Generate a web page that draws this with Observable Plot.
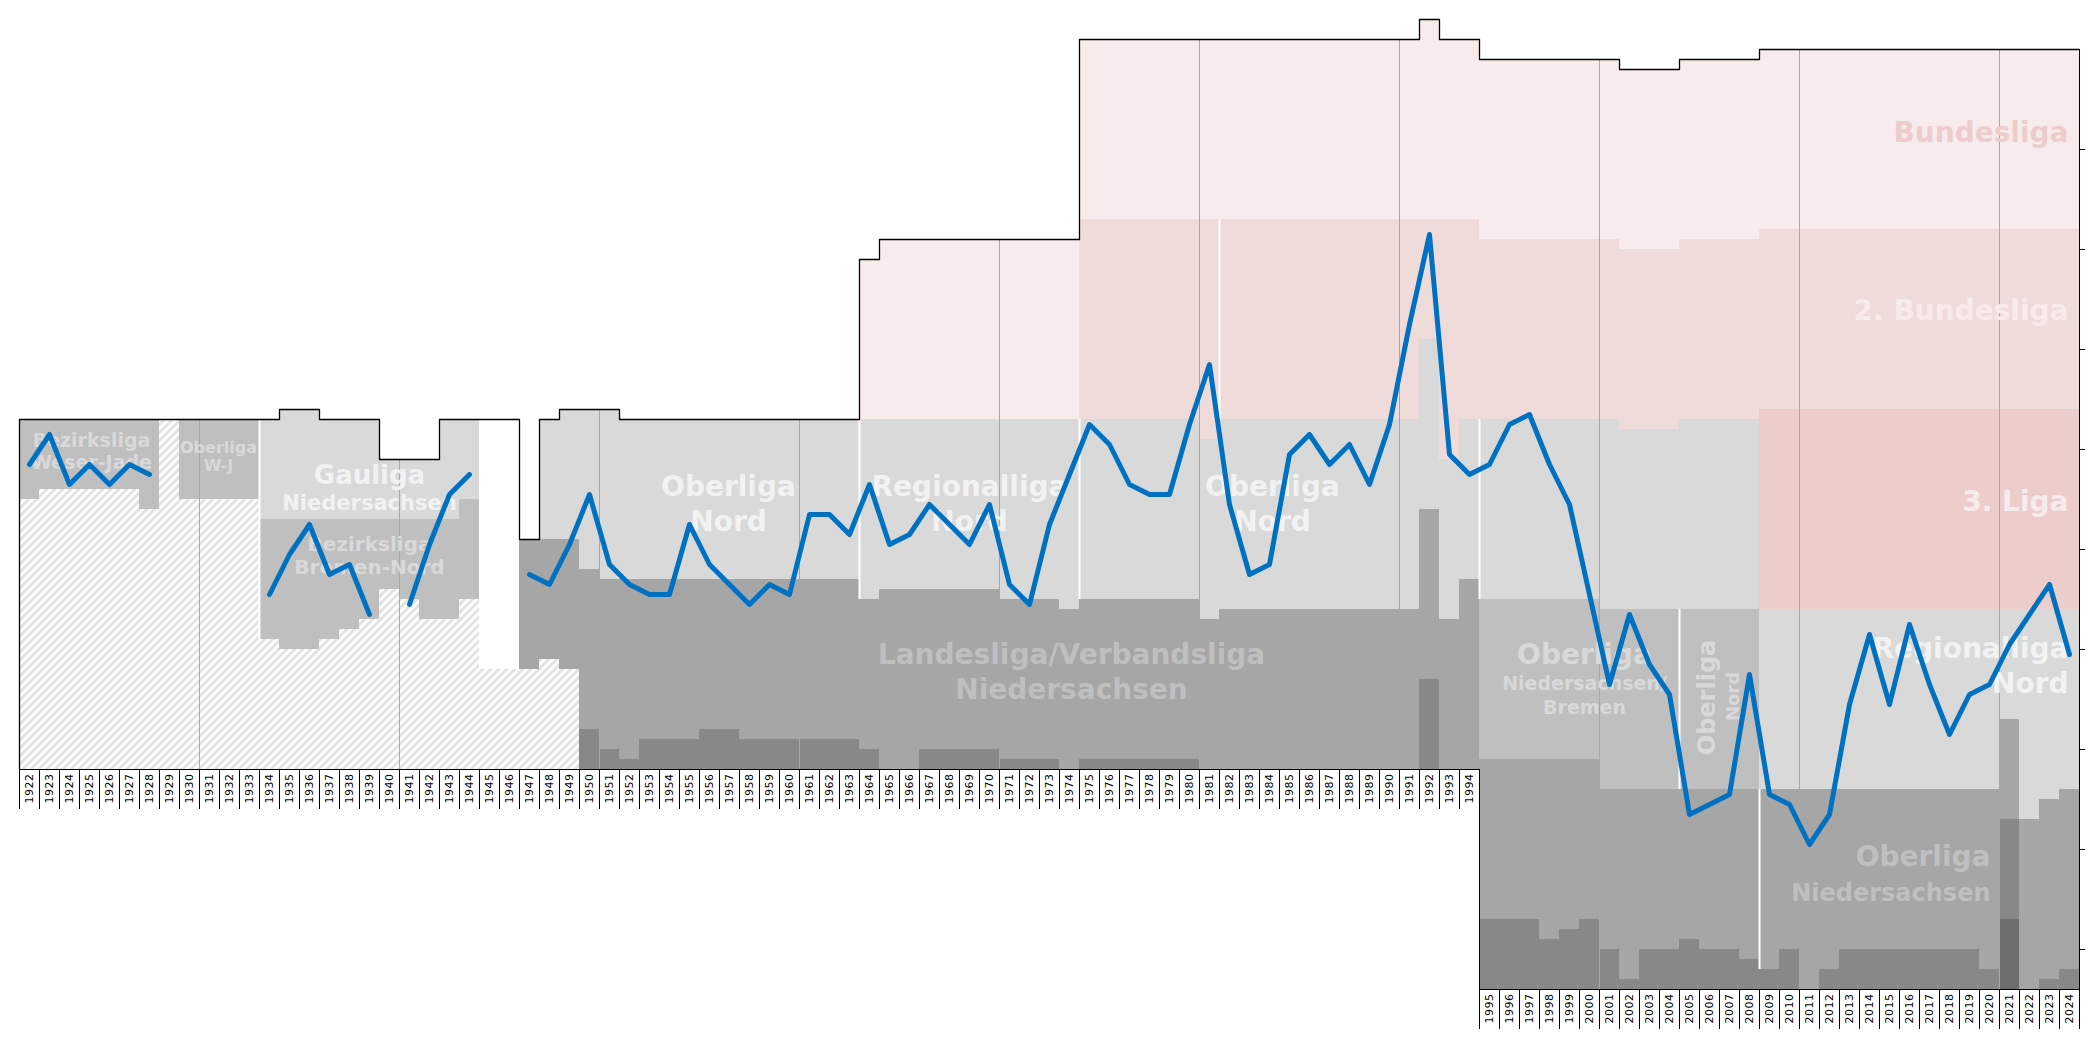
<!DOCTYPE html>
<html><head><meta charset="utf-8">
<script src="https://cdn.jsdelivr.net/npm/d3@7"></script>
<script src="https://cdn.jsdelivr.net/npm/@observablehq/plot@0.6"></script>
<style>html,body{margin:0;padding:0;background:#fff;} svg{display:block;}</style>
</head><body><div id="chart"></div>
<script>
// ---------- DATA (positions in "overall rank" units, 0 = top of Bundesliga 2009+) ----------
const firstYear = 1922, lastYear = 2024, splitYear = 1995;

// club's overall position per season (null = no data)
const positions = [
  41.5,38.5,43.5,41.5,43.5,41.5,42.5,null,null,null,null,null,      // 1922-1933
  54.5,50.5,47.5,52.5,51.5,56.5,null,                                // 1934-1940
  55.5,49.5,44.5,42.5,null,null,                                     // 1941-1946
  52.5,53.5,49.5,44.5,51.5,53.5,54.5,54.5,47.5,51.5,53.5,55.5,53.5,54.5, // 1947-1960
  46.5,46.5,48.5,43.5,49.5,48.5,45.5,47.5,49.5,45.5,                 // 1961-1970
  53.5,55.5,47.5,42.5,37.5,39.5,43.5,44.5,44.5,37.5,                 // 1971-1980
  31.5,45.5,52.5,51.5,40.5,38.5,41.5,39.5,43.5,37.5,                 // 1981-1990
  27.5,18.5,40.5,42.5,41.5,37.5,36.5,41.5,45.5,54.5,                 // 1991-2000
  63.5,56.5,61.5,64.5,76.5,75.5,74.5,62.5,74.5,75.5,                 // 2001-2010
  79.5,76.5,65.5,58.5,65.5,57.5,63.5,68.5,64.5,63.5,                 // 2011-2020
  59.5,56.5,53.5,60.5                                                // 2021-2024
];

// league bands: [fromYear, toYear, topRank, bottomRank]
const bundesliga = [[1964,1964,21,37],[1965,1974,19,37],[1975,1991,-1,17],[1992,1992,-3,17],[1993,1994,-1,17],
  [1995,2001,1,19],[2002,2004,2,20],[2005,2008,1,19],[2009,2024,0,18]];
const zweiteBundesliga = [[1975,1980,17,37],[1981,1981,17,39],[1982,1991,17,37],[1992,1992,17,29],[1993,1993,17,41],
  [1994,1994,17,37],[1995,2001,19,37],[2002,2004,20,38],[2005,2008,19,37],[2009,2024,18,36]];
const dritteLiga = [[2009,2024,36,56]];
const levelLight = [[1934,1934,37,47],[1935,1936,36,47],[1937,1939,37,47],[1940,1942,41,47],[1943,1943,37,47],[1944,1944,37,45],
  [1948,1948,37,49],[1949,1949,36,49],[1950,1950,36,52],[1951,1951,36,53],[1952,1963,37,53],[1964,1964,37,55],
  [1965,1970,37,54],[1971,1973,37,55],[1974,1974,37,56],[1975,1980,37,55],[1981,1981,39,57],[1982,1991,37,56],
  [1992,1992,29,46],[1993,1993,41,57],[1994,1994,37,53],[1995,2000,37,55],[2001,2001,37,56],[2002,2004,38,56],
  [2005,2008,37,56],[2009,2020,56,74],[2021,2021,56,67],[2022,2022,56,77],[2023,2023,56,75],[2024,2024,56,74]];
const levelMid = [[1922,1922,37,45],[1923,1927,37,44],[1928,1928,37,46],[1930,1933,37,45],[1934,1934,47,59],
  [1935,1936,47,60],[1937,1937,47,59],[1938,1938,47,58],[1939,1939,47,57],[1940,1940,47,54],[1941,1941,47,55],
  [1942,1943,47,57],[1944,1944,45,55],[1995,2000,55,71],[2001,2008,56,74]];
const levelDark = [[1947,1947,49,62],[1948,1948,49,61],[1949,1949,49,62],[1950,1950,52,68],[1951,1951,53,70],
  [1952,1952,53,71],[1953,1955,53,69],[1956,1957,53,68],[1958,1963,53,69],[1964,1964,55,70],[1965,1966,54,72],
  [1967,1970,54,70],[1971,1973,55,71],[1974,1974,56,72],[1975,1980,55,71],[1981,1981,57,72],[1982,1991,56,72],
  [1992,1992,46,63],[1993,1993,57,72],[1994,1994,53,72],[1995,1997,71,87],[1998,1998,71,89],[1999,1999,71,88],
  [2000,2000,71,87],[2001,2001,74,90],[2002,2002,74,93],[2003,2004,74,90],[2005,2005,74,89],[2006,2007,74,90],
  [2008,2008,74,91],[2009,2009,74,92],[2010,2010,74,90],[2011,2011,74,94],[2012,2012,74,92],[2013,2019,74,90],
  [2020,2020,74,92],[2021,2021,67,77],[2022,2022,77,94],[2023,2023,75,93],[2024,2024,74,92]];
const levelDarker = [[1950,1950,68,72],[1951,1951,70,72],[1952,1952,71,72],[1953,1955,69,72],[1956,1957,68,72],
  [1958,1963,69,72],[1964,1964,70,72],[1967,1970,70,72],[1971,1973,71,72],[1975,1980,71,72],[1992,1992,63,72],
  [1995,1997,87,94],[1998,1998,89,94],[1999,1999,88,94],[2000,2000,87,94],[2001,2001,90,94],[2002,2002,93,94],
  [2003,2004,90,94],[2005,2005,89,94],[2006,2007,90,94],[2008,2008,91,94],[2009,2009,92,94],[2010,2010,90,94],
  [2012,2012,92,94],[2013,2019,90,94],[2020,2020,92,94],[2021,2021,77,87],[2023,2023,93,94],[2024,2024,92,94]];
const levelDarkest = [[2021,2021,87,94]];
const unknownLower = [[1922,1922,45,72],[1923,1927,44,72],[1928,1928,46,72],[1929,1929,37,72],[1930,1933,45,72],
  [1934,1934,59,72],[1935,1936,60,72],[1937,1937,59,72],[1938,1938,58,72],[1939,1939,57,72],[1940,1940,54,72],
  [1941,1941,55,72],[1942,1943,57,72],[1944,1944,55,72],[1945,1946,62,72],[1947,1947,62,72],[1948,1948,61,72],
  [1949,1949,62,72]];
const noLeague = [[1945,1946,37,62]];

// league restructuring separators: [year, top, bottom]
const separators = [[1934,37,59],[1964,37,55],[1975,37,55],[1982,17,37],[1995,37,55],[2005,56,74],[2009,74,92]];
const decades = [1931,1941,1951,1961,1971,1981,1991,2001,2011,2021];
const axisBase = [[1922,1994,72],[1995,2024,94]];
const yTicks = [10,20,30,40,50,60,70,80,90];

// league name annotations: [text, x(year), y(rank), fontSize, colour]
const centerLabels = [
  ["Bezirksliga",1925.1,39.1,19,"#d9d9d9"],["Weser-Jade",1925.1,41.3,19,"#d9d9d9"],
  ["Oberliga",1931.45,39.8,16,"#d9d9d9"],["W-J",1931.45,41.6,16,"#d9d9d9"],
  ["Gauliga",1939,42.6,26,"#f2f2f2"],["Niedersachsen",1939,45.4,21,"#f2f2f2"],
  ["Bezirksliga",1939,49.5,20,"#d9d9d9"],["Bremen-Nord",1939,51.8,20,"#d9d9d9"],
  ["Oberliga",1956.95,43.8,28,"#f2f2f2"],["Nord",1956.95,47.3,28,"#f2f2f2"],
  ["Regionalliga",1969,43.8,28,"#f2f2f2"],["Nord",1969,47.3,28,"#f2f2f2"],
  ["Oberliga",1984.15,43.8,28,"#f2f2f2"],["Nord",1984.15,47.3,28,"#f2f2f2"],
  ["Landesliga/Verbandsliga",1974.1,60.6,28,"#bfbfbf"],["Niedersachsen",1974.1,64.1,28,"#bfbfbf"],
  ["Oberliga",1999.75,60.6,28,"#d9d9d9"],["Niedersachsen/",1999.75,63.45,19,"#d9d9d9"],["Bremen",1999.75,65.8,19,"#d9d9d9"]
];
const verticalLabels = [["Oberliga",2005.88,64.8,24,"#d9d9d9"],["Nord",2007.2,64.7,18,"#d9d9d9"]];
const rightLabels = [
  ["Oberliga",2020.05,80.8,28,"#bfbfbf"],["Niedersachsen",2020.05,84.4,24,"#bfbfbf"],
  ["Regionalliga",2023.95,60.0,28,"#f2f2f2"],["Nord",2023.95,63.45,28,"#f2f2f2"],
  ["3. Liga",2023.95,45.3,28,"#f7eceb"],["2. Bundesliga",2023.95,26.2,28,"#f7eceb"],["Bundesliga",2023.95,8.4,28,"#edcdcc"]
];

// ---------- DERIVED ----------
const years = d3.range(firstYear, lastYear + 1);
const allBands = [bundesliga, zweiteBundesliga, dritteLiga, levelLight, levelMid, levelDark, levelDarker, levelDarkest, unknownLower, noLeague];
const topOf = y => d3.min(allBands.flat().filter(b => b[0] <= y && y <= b[1]), b => b[2]);
const baseOf = y => y < splitYear ? 72 : 94;
const border = [{x: firstYear - 0.5, y: 72}, ...years.map(y => ({x: y - 0.5, y: topOf(y)})), {x: lastYear + 0.5, y: topOf(lastYear)}];
const series = positions.map((v, i) => ({year: firstYear + i, pos: v}));

const band = (data, fill) => Plot.rect(data, {x1: d => d[0] - 0.5, x2: d => d[1] + 0.5, y1: d => d[2], y2: d => d[3], fill, shapeRendering: "crispEdges"});
const FONT = "DejaVu Sans, Verdana, sans-serif";
const labelMark = (data, opts) => Plot.text(data, {x: d => d[1], y: d => d[2], text: d => d[0], fontSize: d => d[3], fill: d => d[4], fontWeight: "bold", fontFamily: FONT, lineAnchor: "middle", ...opts});

const chart = Plot.plot({
  width: 2099, height: 1039,
  marginLeft: 19, marginRight: 20, marginTop: 0, marginBottom: 0,
  x: {domain: [firstYear - 0.5, lastYear + 0.5], axis: null},
  y: {domain: [-4.9, 99.0], range: [0, 1039], axis: null},
  color: {type: "identity"},
  style: {background: "white", overflow: "visible"},
  marks: [
    band(bundesliga, "#f7eceb"),
    band(zweiteBundesliga, "#f0dbdb"),
    band(dritteLiga, "#edcdcc"),
    band(levelLight, "#d9d9d9"),
    band(levelMid, "#bfbfbf"),
    band(levelDark, "#a6a6a6"),
    band(levelDarker, "#888888"),
    band(levelDarkest, "#6e6e6e"),
    band(unknownLower, "url(#hatch)"),
    band(noLeague, "white"),
    Plot.ruleX(separators, {x: d => d[0] - 0.5, y1: d => d[1], y2: d => d[2], stroke: "white", strokeWidth: 2}),
    Plot.ruleX(decades, {x: d => d - 0.5, y1: d => topOf(d), y2: d => baseOf(d), stroke: "#a8a8a8", strokeWidth: 1}),
    labelMark(centerLabels, {textAnchor: "middle"}),
    labelMark(verticalLabels, {textAnchor: "middle", rotate: -90}),
    labelMark(rightLabels, {textAnchor: "end"}),
    Plot.line(border, {x: "x", y: "y", curve: "step-after", stroke: "black", strokeWidth: 1.3}),
    // x axis baselines and label cells
    Plot.ruleY(axisBase, {y: d => d[2], x1: d => d[0] - 0.5, x2: d => d[1] + 0.5, stroke: "black", strokeWidth: 1}),
    Plot.ruleX(years, {x: d => d - 0.5, y1: d => baseOf(d), y2: d => baseOf(d) + 4, stroke: "black", strokeWidth: 1}),
    Plot.ruleX([splitYear], {x: d => d - 0.5, y1: 72, y2: 98, stroke: "black", strokeWidth: 1}),
    Plot.text(years, {x: d => d, y: d => baseOf(d), text: d => String(d), rotate: -90, textAnchor: "end", lineAnchor: "middle", dy: 4, fontSize: 11, fontFamily: FONT, fill: "black", style: "letter-spacing:0.5px"}),
    // right axis
    Plot.ruleX([lastYear + 0.5], {y1: 0, y2: 98, stroke: "black", strokeWidth: 1}),
    Plot.axisY(yTicks, {anchor: "right", tickSize: 5, tickFormat: () => "", label: null, stroke: "black"}),
    // club position line
    Plot.line(series, {x: "year", y: "pos", stroke: "#0070c0", strokeWidth: 5, strokeLinejoin: "round", strokeLinecap: "round"})
  ]
});

// hatch pattern for lower unknown leagues
const defs = d3.select(chart).insert("defs", ":first-child");
const pat = defs.append("pattern").attr("id", "hatch").attr("patternUnits", "userSpaceOnUse").attr("width", 8).attr("height", 8);
pat.append("rect").attr("width", 8).attr("height", 8).attr("fill", "white");
pat.append("path").attr("d", "M-2,2 l4,-4 M0,8 l8,-8 M6,10 l4,-4").attr("stroke", "#e3e3e3").attr("stroke-width", 3);
// letter spacing for year labels
d3.select(chart).selectAll("text").filter(function() { return /^\d{4}$/.test(this.textContent); }).attr("letter-spacing", "0.5px");

document.getElementById("chart").appendChild(chart);
</script>
</body></html>
